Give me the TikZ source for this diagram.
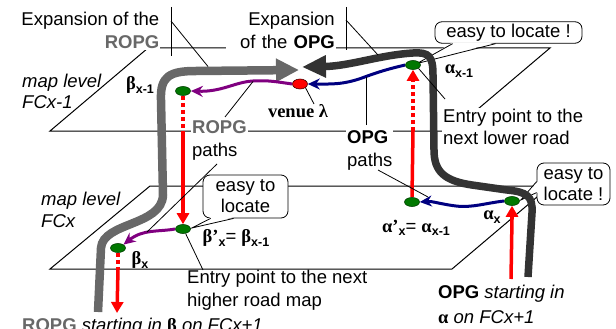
\documentclass[tikz,border=0pt]{standalone}
\usepackage{fontspec}
\setmainfont{Liberation Sans}
\newfontfamily\grkfont{Liberation Serif}
\usetikzlibrary{arrows.meta,shapes.geometric,calc}

\definecolor{ropggray}{HTML}{686868}
\definecolor{opgdark}{HTML}{333333}
\definecolor{pathpurple}{HTML}{800080}
\definecolor{pathnavy}{HTML}{000080}
\definecolor{dotgreen}{HTML}{007800}

\newcommand{\gk}[1]{{\grkfont\bfseries #1}}
\newcommand{\sbx}[1]{\raisebox{-3.5pt}{\fontsize{12.5}{13}\selectfont\bfseries #1}}

\pgfdeclarelayer{back}
\pgfdeclarelayer{front}
\pgfsetlayers{back,main,front}

\begin{document}
\begin{tikzpicture}[x=1pt,y=-1pt,
  lbl/.style={font=\fontsize{18.5}{23}\selectfont, inner sep=1pt},
  lbli/.style={font=\fontsize{18.5}{22}\selectfont\itshape, inner sep=1pt},
  plane/.style={draw=black, line width=1pt},
  ptr/.style={draw=black, line width=0.8pt},
  road/.style={line width=8.5pt},
  gdot/.style={ellipse, draw=black!75!green, line width=0.6pt, fill=dotgreen,
    minimum width=15pt, minimum height=9pt, inner sep=0pt},
  rdot/.style={ellipse, draw=black!70!red, line width=0.6pt, fill=red,
    minimum width=15pt, minimum height=10pt, inner sep=0pt},
  upath/.style={line width=3pt, -{Stealth[length=12pt,width=11pt]}},
  redline/.style={draw=red, line width=3.5pt},
  reddots/.style={redline, dash pattern=on 4pt off 3pt},
  redtip/.style={-{Triangle[length=11pt,width=12pt]}},
  callout/.style={draw=black, line width=0.8pt, fill=white, rounded corners=7pt,
    font=\fontsize{18.5}{21}\selectfont, align=center, inner sep=0pt},
]
\useasboundingbox (0,0) rectangle (616,329);

% ---- the two map levels ----
\begin{pgfonlayer}{back}
  \draw[plane] (50,131) -- (148,48) -- (550,48) -- (452,131) -- cycle;
  \draw[plane] (50,269) -- (150,186) -- (550,186) -- (452,269) -- cycle;
\end{pgfonlayer}

% ---- points on the roads ----
\begin{pgfonlayer}{front}
  \node[gdot] (bx1) at (183,91) {};
  \node[rdot] (venue) at (300,84) {};
  \node[gdot] (ax1) at (413,65) {};
  \node[gdot] (bpx) at (183,229) {};
  \node[gdot] (bx) at (118,248) {};
  \node[gdot] (apx) at (412,202) {};
  \node[gdot] (ax) at (512,201) {};
\end{pgfonlayer}

% ---- labels with white ground ----
\node[lbl, anchor=east, fill=white, align=right] (expR) at (160.5,30.5)
  {Expansion of the\\\textcolor{ropggray}{\textbf{ROPG}}};
\node[lbl, anchor=east, fill=white, align=right, text width=108pt] (expO) at (336,30.5)
  {Expansion\\of the \textbf{OPG}};
\node[lbl, anchor=west, fill=white, align=left] (ropgl) at (191,140)
  {\textcolor{ropggray}{\textbf{ROPG}}\\paths};
\node[lbl, anchor=west, fill=white, align=left] (opgl) at (346,150)
  {\textbf{OPG}\\paths};
\node[lbl, anchor=west, fill=white, align=left, font=\fontsize{18.5}{22}\selectfont] (entl1) at (442,126.5)
  {Entry point to the\\next lower road};

% ---- callouts ----
\node[callout, minimum width=147pt, minimum height=21.5pt] (ez1) at (508.5,32.5) {easy to locate !};
\coordinate (t1a) at ($(ez1.south west)+(18,0)$);
\coordinate (t1b) at ($(ez1.south west)+(61,0)$);
\coordinate (t1) at ($(ax1)+(4,-1.5)$);
\fill[white] ($(t1a)+(0,-1.2)$) -- (t1) -- ($(t1b)+(0,-1.2)$) -- cycle;
\draw[ptr, line join=miter] (t1a) -- (t1) -- (t1b);

\node[callout, minimum width=85pt, minimum height=43pt] (ez2) at (245.5,196.5) {easy to\\locate};
\coordinate (t2a) at ($(ez2.south west)+(8,0)$);
\coordinate (t2b) at ($(ez2.south west)+(31,0)$);
\coordinate (t2) at ($(bpx.east)+(1,-1)$);
\fill[white] ($(t2a)+(0,-1.2)$) -- (t2) -- ($(t2b)+(0,-1.2)$) -- cycle;
\draw[ptr, line join=miter] (t2a) -- (t2) -- (t2b);

\node[callout, minimum width=73pt, minimum height=42pt] (ez3) at (573.5,184) {easy to\\locate !};
\coordinate (t3a) at ($(ez3.north west)+(0,19)$);
\coordinate (t3b) at ($(ez3.north west)+(0,30)$);
\coordinate (t3) at ($(ax.east)+(1,-1)$);
\fill[white] ($(t3a)+(1.2,0)$) -- (t3) -- ($(t3b)+(1.2,0)$) -- cycle;
\draw[ptr, line join=miter] (t3a) -- (t3) -- (t3b);

% ---- expansion roads ----
\coordinate (meetR) at (299,70);
\coordinate (meetO) at (302,67);
\draw[road, ropggray, -{Triangle[length=23pt,width=22pt]}]
  (98,312) -- (101,248) .. controls (103,222) and (162,226) .. (163,195)
  -- (161,100) .. controls (160,76) and (170,71) .. (196,71) -- (meetR);
\draw[road, opgdark, line width=7.5pt, -{Triangle[length=24pt,width=21pt]}]
  (528,277) -- (532,213) .. controls (533,196) and (527,192) .. (507,190)
  -- (472,185) .. controls (445,181) and (434,172) .. (434,150)
  -- (433,75) .. controls (433,56) and (429,52) .. (413,53)
  .. controls (380,55) and (350,66) .. (meetO);

% ---- OPG / ROPG paths ----
\draw[upath, pathpurple] (venue.west) .. controls (278,82) and (268,80) .. (253,81)
  .. controls (235,82) and (222,92) .. (bx1.east);
\draw[upath, pathnavy] (ax1.west) .. controls (388,69) and (378,72) .. (362,78)
  .. controls (342,85) and (330,84) .. (venue.east);
\draw[upath, pathpurple] (bpx.west) .. controls (158,232) and (143,229) .. (bx.north east);
\draw[upath, pathnavy] (ax.west) .. controls (486,203) and (472,208) .. (456,206)
  .. controls (440,204) and (432,201) .. (apx.east);

% ---- links between the levels ----
\coordinate (r1) at (183,131);
\draw[reddots] (bx1.south) -- (r1);
\draw[redline, redtip] (r1) -- (bpx.north);
\coordinate (r2) at (413,131);
\draw[redline] (apx.north) -- (r2);
\draw[reddots, redtip] (r2) -- (ax1.south);
\coordinate (r3) at (118,269);
\coordinate (r3end) at (117,313);
\draw[reddots] (bx.south) -- (r3);
\draw[redline, redtip] (r3) -- (r3end);
\coordinate (r4start) at (511,279);
\coordinate (r4) at (512,219);
\draw[redline] (r4start) -- (r4);
\draw[reddots, redtip] (r4) -- (ax.south);

% ---- pointer lines ----
\draw[ptr] (171,7) -- (171,56);
\draw[ptr] (171,21) -- (208,66.5);
\draw[ptr] (346,7) -- (346,50);
\draw[ptr] (346,20) -- (378,55);
\draw[ptr] (225,117) -- (253,81.5);
\draw[ptr] (217,164) -- (147,232);
\draw[ptr] (366,125) -- (366,77);
\draw[ptr] (378,170) -- (428,197);
\draw[ptr] (venue.south east) -- (314,104);
\draw[ptr] (ax1.south east) -- (445,99);
\draw[ptr] (bpx.-60) -- (203,270);

% ---- plain labels ----
\node[lbli, anchor=west, align=left, font=\fontsize{18.5}{21}\selectfont\itshape] (lvl1) at (21,91) {map level\\FCx-1};
\node[lbli, anchor=west, align=left] (lvl2) at (40,210) {map level\\FCx};
\node[lbl] (bx1l) at (140,85) {\gk{β}\sbx{x-1}};
\node[lbl, font=\grkfont\bfseries\fontsize{18.5}{20}\selectfont] (venl) at (298,111) {venue λ};
\node[lbl] (ax1l) at (459,71) {\gk{α}\sbx{x-1}};
\node[lbl] (bpxl) at (236,238) {\gk{β’}\sbx{x}= \gk{β}\sbx{x-1}};
\node[lbl] (bxl) at (140,260) {\gk{β}\sbx{x}};
\node[lbl, anchor=west, align=left, font=\fontsize{18.5}{23}\selectfont] (entl2) at (186,290)
  {Entry point to the next\\higher road map};
\node[lbl] (apxl) at (416,228) {\gk{α’}\sbx{x}= \gk{α}\sbx{x-1}};
\node[lbl] (axl) at (492,217) {\gk{α}\sbx{x}};
\node[lbl, anchor=west, align=left, font=\fontsize{18.5}{25}\selectfont] (opgs) at (437,304.5)
  {\textbf{OPG} \textit{starting in}\\\gk{α} \textit{on FCx+1}};
\node[lbl, anchor=west] (ropgs) at (21,326.5)
  {\textcolor{ropggray}{\textbf{ROPG}} \textit{starting in} \gk{β} \textit{on FCx+1}};

\end{tikzpicture}
\end{document}
